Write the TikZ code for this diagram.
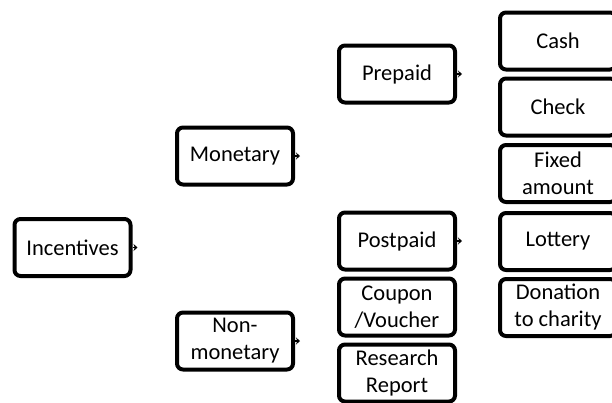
\documentclass[tikz,border=0pt]{standalone}
\usepackage{fontspec}
\setmainfont{Carlito}
\usetikzlibrary{arrows.meta}
\begin{document}
\begin{tikzpicture}[x=1pt,y=-1pt,
  box/.style={draw=black, line width=4pt, rounded corners=6pt, fill=white,
    minimum width=116pt, minimum height=57pt, align=center,
    font=\fontsize{22.5}{27}\selectfont, inner sep=2pt},
  stub/.style={line width=1.5pt, -{Stealth[length=4pt,width=7pt]}}]
\useasboundingbox (0,0) rectangle (612,402);
\clip (0,0) rectangle (612,402);
\node[box] (inc) at (72.5,247.5) {Incentives};
\node[box] (mon) at (235,156) {Monetary};
\node[box] (non) at (235,341) {Non-\\monetary};
\node[box] (pre) at (397,74) {Prepaid};
\node[box] (post) at (397,241) {Postpaid};
\node[box] (coup) at (397,307) {Coupon\\/Voucher};
\node[box] (res) at (397,373) {Research\\Report};
\node[box] (cash) at (558,41) {Cash};
\node[box] (check) at (558,107) {Check};
\node[box] (fixed) at (558,173.5) {Fixed\\amount};
\node[box] (lot) at (558,241.5) {Lottery};
\node[box] (don) at (558,307.5) {Donation\\to charity};
\foreach \n in {inc,mon,non,pre,post}{
  \coordinate (\n-s) at ([xshift=5pt]\n.east);
  \draw[stub] (\n.east) -- (\n-s);
}
\end{tikzpicture}
\end{document}
